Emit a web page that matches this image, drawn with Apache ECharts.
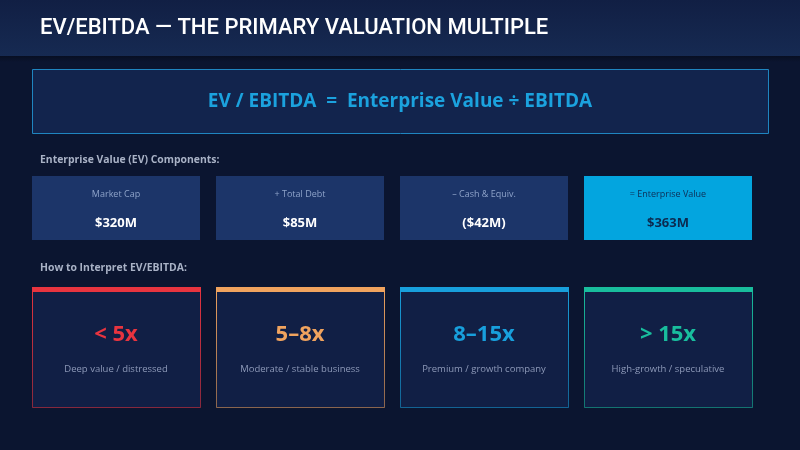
<!DOCTYPE html>
<html>
<head>
<meta charset="utf-8">
<script src="https://cdn.jsdelivr.net/npm/echarts@6/dist/echarts.min.js"></script>
<style>
  html, body { margin: 0; padding: 0; background: #0b1530; }
  #main { width: 800px; height: 450px; }
</style>
</head>
<body>
<div id="main"></div>
<script>
// EV components
const compLabels = ['Market Cap', '+ Total Debt', '\u2013 Cash & Equiv.', '= Enterprise Value'];
const compValues = ['$320M', '$85M', '($42M)', '$363M'];
// interpretation bands
const bandRanges = ['< 5x', '5\u20138x', '8\u201315x', '> 15x'];
const bandNotes = ['Deep value / distressed', 'Moderate / stable business', 'Premium / growth company', 'High-growth / speculative'];
const bandColors = ['#e8343f', '#f0a35e', '#189fdc', '#19bd9d'];

const FONT = '"Open Sans", "Noto Sans", sans-serif';
const chart = echarts.init(document.getElementById('main'));

const els = [];
// header band
els.push({
  type: 'rect', shape: { x: 0, y: 0, width: 800, height: 56 },
  style: { fill: new echarts.graphic.LinearGradient(0, 0, 0, 1, [
    { offset: 0, color: '#111f44' }, { offset: 1, color: '#162a52' }]) }
});
els.push({
  type: 'rect', shape: { x: 0, y: 56, width: 800, height: 6 },
  style: { fill: new echarts.graphic.LinearGradient(0, 0, 0, 1, [
    { offset: 0, color: 'rgba(5,10,25,0.6)' }, { offset: 1, color: 'rgba(5,10,25,0)' }]) }
});
els.push({
  type: 'text', x: 40, y: 28,
  style: { text: 'EV/EBITDA \u2014 THE PRIMARY VALUATION MULTIPLE', fill: '#ffffff',
    font: '500 22px Roboto, sans-serif', verticalAlign: 'middle' }
});
// formula box
els.push({
  type: 'rect', shape: { x: 32.5, y: 69.5, width: 736, height: 64 },
  style: { fill: '#12244d', stroke: '#1f85c0', lineWidth: 1 }
});
els.push({
  type: 'text', x: 400, y: 102,
  style: { text: 'EV / EBITDA  =  Enterprise Value \u00f7 EBITDA', fill: '#1ba2de',
    font: 'bold 19px ' + FONT, align: 'center', verticalAlign: 'middle' }
});
// section labels
els.push({
  type: 'text', x: 40, y: 160,
  style: { text: 'Enterprise Value (EV) Components:', fill: '#a9b2c6',
    font: 'bold 10.4px ' + FONT, verticalAlign: 'middle' }
});
els.push({
  type: 'text', x: 40, y: 268,
  style: { text: 'How to Interpret EV/EBITDA:', fill: '#a9b2c6',
    font: 'bold 10.4px ' + FONT, verticalAlign: 'middle' }
});

const cardW = 168, gap = 16, x0 = 32;
compLabels.forEach((lab, i) => {
  const x = x0 + i * (cardW + gap);
  const last = i === compLabels.length - 1;
  els.push({
    type: 'rect', shape: { x: x, y: 176, width: cardW, height: 64 },
    style: { fill: last ? '#03a5df' : '#1c3569' }
  });
  els.push({
    type: 'text', x: x + cardW / 2, y: 194,
    style: { text: lab, fill: last ? '#0e2e55' : '#8ea3c9', font: '9px ' + FONT,
      align: 'center', verticalAlign: 'middle' }
  });
  els.push({
    type: 'text', x: x + cardW / 2, y: 223,
    style: { text: compValues[i], fill: last ? '#0c2a4f' : '#ffffff', font: 'bold 13px ' + FONT,
      align: 'center', verticalAlign: 'middle' }
  });
});

bandRanges.forEach((r, i) => {
  const x = x0 + i * (cardW + gap);
  const c = bandColors[i];
  els.push({
    type: 'rect', shape: { x: x + 0.5, y: 287.5, width: cardW, height: 120 },
    style: { fill: '#111f45', lineWidth: 1,
      stroke: new echarts.graphic.LinearGradient(0, 0, 0, 1, [
        { offset: 0, color: c }, { offset: 1, color: echarts.color.modifyAlpha(c, 0.55) }]) }
  });
  els.push({
    type: 'rect', shape: { x: x, y: 287, width: cardW + 1, height: 5 },
    style: { fill: c }
  });
  els.push({
    type: 'text', x: x + cardW / 2, y: 335,
    style: { text: r, fill: c, font: 'bold 22px ' + FONT, align: 'center', verticalAlign: 'middle' }
  });
  els.push({
    type: 'text', x: x + cardW / 2, y: 369,
    style: { text: bandNotes[i], fill: '#8d99b8', font: '9.5px ' + FONT,
      align: 'center', verticalAlign: 'middle' }
  });
});

chart.setOption({
  backgroundColor: '#0b1530',
  animation: false,
  graphic: { elements: els }
});
</script>
</body>
</html>
